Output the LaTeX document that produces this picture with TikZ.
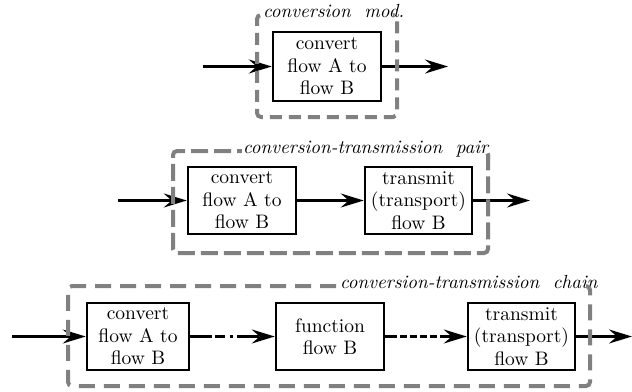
\documentclass[tikz,border=0pt]{standalone}
\usepackage{fontspec}
\setmainfont{lmroman10-regular.otf}[ItalicFont=lmroman10-italic.otf]
\usetikzlibrary{arrows.meta}
\definecolor{framegray}{RGB}{128,128,128}
\tikzset{
  procbox/.style={draw, line width=2.5pt, align=center, inner sep=0pt,
    minimum height=67pt, font=\fontsize{19.5}{22.5}\selectfont},
  flowarrow/.style={line width=2.5pt, -{Stealth[length=23pt,width=14pt,inset=8pt]}},
  dframe/.style={draw=framegray, line width=4pt, rounded corners=4pt, inner sep=0pt},
  fOne/.style={dframe, dash pattern=on 12pt off 7pt, minimum width=140pt, minimum height=102pt},
  fTwo/.style={dframe, dash pattern=on 17pt off 6pt, minimum width=315pt, minimum height=102pt},
  fThree/.style={dframe, dash pattern=on 16pt off 9pt, minimum width=522pt, minimum height=100pt},
  flabel/.style={fill=white, inner sep=1pt, anchor=mid west,
    font=\fontsize{19}{22}\selectfont\itshape},
  dashdotline/.style={dash pattern=on 22pt off 3pt on 10pt off 5pt on 3pt off 4pt},
  finedashline/.style={dash pattern=on 12pt off 3pt on 7pt off 3pt on 7pt off 3pt on 7pt off 3pt on 7pt off 3pt},
}
\begin{document}
\begin{tikzpicture}[x=1pt,y=-1pt]
\useasboundingbox (0,0) rectangle (632,391);

% ---------- conversion module ----------
\node[procbox, minimum width=108pt, minimum height=69pt] (a1) at (327,66.5) {convert\\flow A to\\flow B};
\coordinate (a0) at (203,66.5);
\coordinate (a2) at (448,66.5);
\draw[flowarrow] (a0) -- (a1.west);
\draw[flowarrow] (a1.east) -- (a2);
\node[fOne] (f1) at (327,66) {};
\node[flabel] (l1) at (262,15) {conversion\ \ mod.};
\begin{scope}
  \clip ([xshift=-6pt]f1.east |- l1.south) rectangle ([xshift=6pt]f1.east |- l1.north);
  \node[fOne] at (327,66) {};
\end{scope}

% ---------- conversion-transmission pair ----------
\node[procbox, minimum width=108pt] (b1) at (242,200.5) {convert\\flow A to\\flow B};
\node[procbox, minimum width=107pt] (b2) at (418.5,200.5) {transmit\\(transport)\\flow B};
\coordinate (b0) at (118,200.5);
\coordinate (b3) at (530,200.5);
\draw[flowarrow] (b0) -- (b1.west);
\draw[flowarrow] (b1.east) -- (b2.west);
\draw[flowarrow] (b2.east) -- (b3);
\node[fTwo] (f2) at (330.5,202) {};
\node[flabel] (l2) at (242,151) {conversion-transmission\ \ pair};
\begin{scope}
  \clip ([xshift=-6pt]f2.east |- l2.south) rectangle ([xshift=6pt]f2.east |- l2.north);
  \node[fTwo] at (330.5,202) {};
\end{scope}

% ---------- conversion-transmission chain ----------
\node[procbox, minimum width=102pt] (c1) at (138,336.5) {convert\\flow A to\\flow B};
\node[procbox, minimum width=108pt] (c2) at (330,336.5) {function\\flow B};
\node[procbox, minimum width=107pt] (c3) at (521.5,336.5) {transmit\\(transport)\\flow B};
\coordinate (c0) at (12,336.5);
\coordinate (c4) at (632,336.5);
\draw[flowarrow] (c0) -- (c1.west);
\draw[flowarrow, dashdotline] (c1.east) -- (c2.west);
\draw[flowarrow, finedashline] (c2.east) -- (c3.west);
\draw[flowarrow] (c3.east) -- (c4);
\node[fThree] (f3) at (329,336) {};
\node[flabel] (l3) at (339,286) {conversion-transmission\ \ chain};
\begin{scope}
  \clip ([xshift=-6pt]f3.east |- l3.south) rectangle ([xshift=6pt]f3.east |- l3.north);
  \node[fThree] at (329,336) {};
\end{scope}
\end{tikzpicture}
\end{document}
